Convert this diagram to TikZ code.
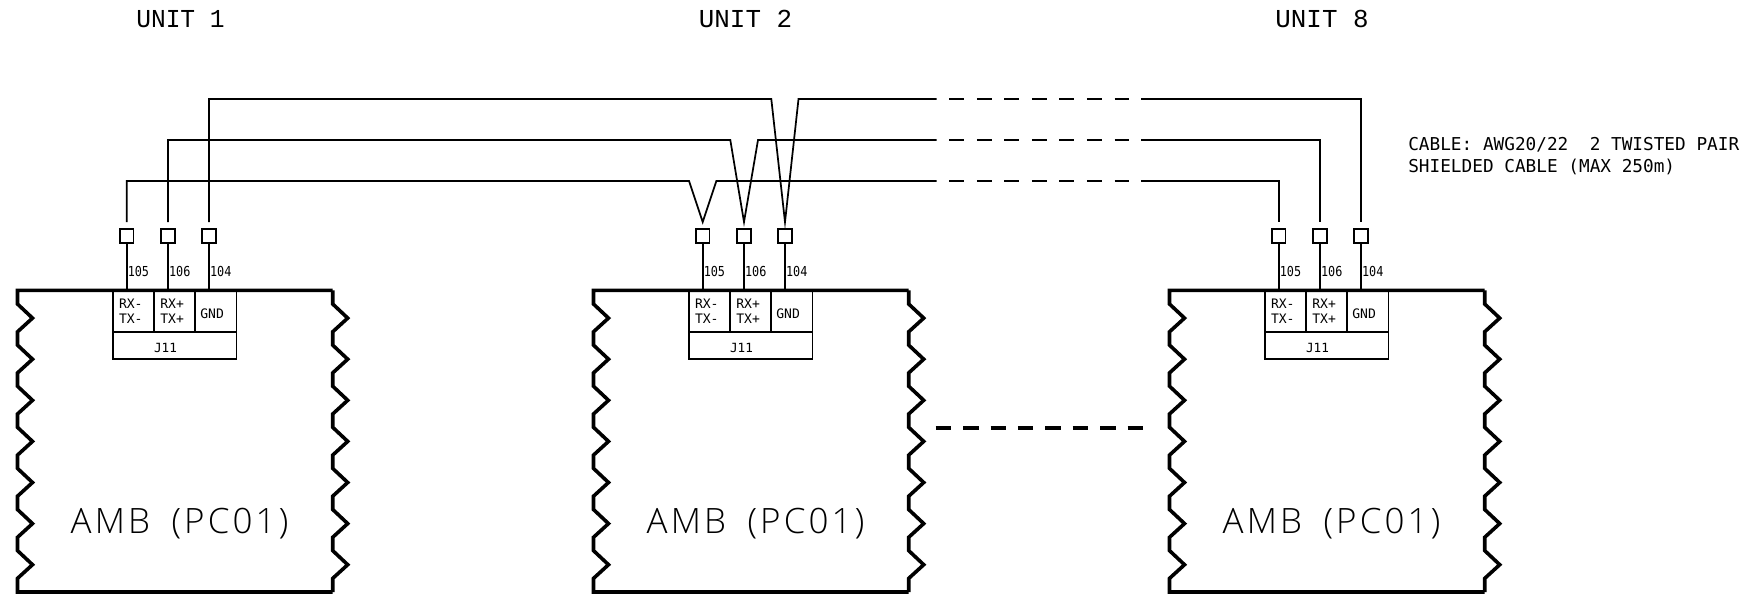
\documentclass[tikz,border=0pt]{standalone}
\usepackage{fontspec}
\usepackage{graphicx}
\usetikzlibrary{calc}
\newfontfamily\sansmono{DejaVu Sans Mono}
\newfontfamily\thinmono{Liberation Mono}
\newfontfamily\lightsans[UprightFont=* Light,LetterSpace=9]{Open Sans}
\def\zig{ -- ++(0,13.7)
 -- ++(15,14.1) -- ++(-15,13.7) -- ++(0,13.3)
 -- ++(15,14.1) -- ++(-15,13.7) -- ++(0,13.3)
 -- ++(15,14.1) -- ++(-15,13.7) -- ++(0,13.3)
 -- ++(15,14.1) -- ++(-15,13.7) -- ++(0,13.3)
 -- ++(15,14.1) -- ++(-15,13.7) -- ++(0,13.3)
 -- ++(15,14.1) -- ++(-15,13.7) -- ++(0,13.3)
 -- ++(15,14.1) -- ++(-15,13.7) -- (\currentx,592)}
\tikzset{
  x=0.75pt, y=-0.75pt,
  wire/.style={line width=1.3pt, black},
  wiredash/.style={wire, dash pattern=on 11.25pt off 9.4pt},
  bigdash/.style={line width=3pt, black, dash pattern=on 11.6pt off 8.95pt},
  border/.style={line width=2.7pt, black, line join=miter},
  termbox/.style={draw, line width=1.2pt, minimum width=10.2pt, minimum height=10.2pt, inner sep=0pt},
  cellbox/.style={draw, line width=1.2pt, inner sep=0pt, align=center, font=\sansmono\fontsize{9.8}{10.7}\selectfont, minimum width=30.8pt, minimum height=31.5pt},
  jbox/.style={draw, line width=1.2pt, inner sep=0pt, font=\sansmono\fontsize{9.5}{10}\selectfont, minimum width=92.3pt, minimum height=20.5pt},
  wirelabel/.style={inner sep=0pt, anchor=west, font=\sansmono\fontsize{10.3}{11}\selectfont},
  unitlabel/.style={inner sep=0pt, font=\thinmono\fontsize{19.4}{20}\selectfont},
  amblabel/.style={inner sep=0pt, font=\lightsans\fontsize{26.2}{30}\selectfont},
  notelabel/.style={inner sep=0pt, anchor=west, align=left, font=\sansmono\fontsize{13.3}{17}\selectfont}
}
\begin{document}
\begin{tikzpicture}
\useasboundingbox (0,0) rectangle (1760,596);
\foreach \u/\dx in {1/0,2/576,8/1152}{
  \begin{scope}[shift={(\dx,0)}]
    \def\currentx{17.5}
    \draw[border] (332.7,290.3) -- (17.5,290.3) \zig -- (332.7,592);
    \def\currentx{332.7}
    \draw[border] (332.7,290.3) \zig;
    \node[cellbox] (c\u a) at (133.8,311.2) {RX-\hspace*{4.5pt}\\TX-\hspace*{4.5pt}};
    \node[cellbox] (c\u b) at (174.8,311.2) {RX+\hspace*{4pt}\\TX+\hspace*{4pt}};
    \node[cellbox] (c\u c) at (215.8,311.2) {\raisebox{-1.5pt}[\height][0pt]{GND}\hspace*{5.5pt}};
    \node[jbox] (j\u) at (174.8,345.6) {\raisebox{-1.5pt}[\height][0pt]{J11}\hspace*{14pt}};
    \node[amblabel] (amb\u) at (179.5,523.5) {AMB\hspace{7pt} (PC01)};
    \node[termbox] (s\u a) at (126.7,236) {};
    \node[termbox] (s\u b) at (168,236) {};
    \node[termbox] (s\u c) at (209,236) {};
    \coordinate (t\u a) at (126.7,222);
    \coordinate (t\u b) at (168,222);
    \coordinate (t\u c) at (209,222);
    \draw[wire] (s\u a.south) -- (s\u a.south |- c\u a.north);
    \draw[wire] (s\u b.south) -- (s\u b.south |- c\u b.north);
    \draw[wire] (s\u c.south) -- (s\u c.south |- c\u c.north);
    \node[wirelabel] (la\u) at (127.5,271) {\scalebox{.86}[1]{105}};
    \node[wirelabel] (lb\u) at (168.8,271) {\scalebox{.86}[1]{106}};
    \node[wirelabel] (lc\u) at (209.8,271) {\scalebox{.86}[1]{104}};
  \end{scope}
}
\node[unitlabel] (u1) at (180.5,19) {\scalebox{.95}[1]{UNIT 1}};
\node[unitlabel] (u2) at (745.5,19) {UNIT 2};
\node[unitlabel] (u8) at (1322,19) {UNIT 8};
\node[notelabel] (note) at (1408,156) {CABLE: AWG20/22\ \ 2 TWISTED PAIR\\SHIELDED CABLE (MAX 250m)};
% solid runs, chevron dips at unit 2
\coordinate (ga) at (936.7,181);  \coordinate (ha) at (1141.3,181);
\coordinate (gb) at (936.7,140);  \coordinate (hb) at (1141.3,140);
\coordinate (gc) at (936.7,99); \coordinate (hc) at (1141.3,99);
\draw[wire] (t1a) |- ($(t2a |- ga)+(-13.7,0)$) -- (t2a) -- ($(t2a |- ga)+(13.7,0)$) -- (ga);
\draw[wire] (t1b) |- ($(t2b |- gb)+(-13.7,0)$) -- (t2b) -- ($(t2b |- gb)+(14,0)$) -- (gb);
\draw[wire] (t1c) |- ($(t2c |- gc)+(-13.7,0)$) -- (t2c) -- ($(t2c |- gc)+(13.5,0)$) -- (gc);
\draw[wire] (ha) -| (t8a);
\draw[wire] (hb) -| (t8b);
\draw[wire] (hc) -| (t8c);
\draw[wiredash] ($(ga)+(12.6,0)$) -- ($(ha)+(-12,0)$);
\draw[wiredash] ($(gb)+(12.6,0)$) -- ($(hb)+(-12,0)$);
\draw[wiredash] ($(gc)+(12.6,0)$) -- ($(hc)+(-12,0)$);
\coordinate (da) at (935.7,427.7);
\coordinate (db) at (1142.9,427.7);
\draw[bigdash] (da) -- (db);
\end{tikzpicture}
\end{document}
